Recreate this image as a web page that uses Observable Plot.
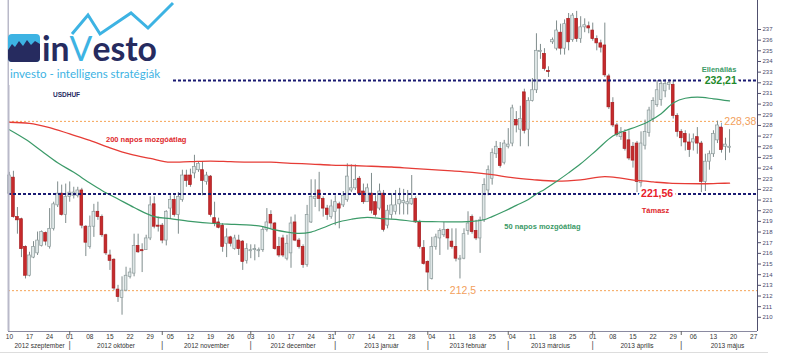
<!DOCTYPE html>
<html><head><meta charset="utf-8">
<script src="https://cdn.jsdelivr.net/npm/d3@7"></script>
<script src="https://cdn.jsdelivr.net/npm/@observablehq/plot@0.6"></script>
<style>body{margin:0;background:#fff}</style>
</head><body><div id="chart"></div>
<script>
// Daily USDHUF candles, one per trading day starting Mon 2012-09-10
const openP = [221.6,223.1,219.4,219.2,216.6,213.9,215.6,216.0,216.7,217.9,216.6,218.3,220.5,221.6,219.6,221.3,221.4,221.4,221.9,218.5,
216.6,218.5,219.9,219.4,217.7,215.8,215.4,212.6,211.8,212.5,213.8,214.1,216.7,216.3,216.3,217.4,220.6,218.6,218.6,217.2,
220.2,221.0,219.6,221.0,223.3,223.3,223.5,223.8,223.8,222.7,223.2,219.3,218.9,218.6,216.9,217.5,216.4,217.2,217.1,215.3,
216.2,216.3,216.2,216.3,218.2,219.6,218.8,216.6,217.4,215.5,216.0,218.9,217.2,216.6,214.9,218.9,221.1,221.9,221.1,220.2,
219.4,219.9,220.6,220.5,221.0,221.9,222.1,223.0,221.8,220.8,221.6,220.8,220.2,221.6,218.6,219.6,219.9,220.6,220.7,220.6,
220.6,221.1,218.9,216.5,215.2,213.6,216.6,217.4,217.7,218.2,217.1,216.6,215.4,215.5,218.1,219.4,218.1,217.4,219.1,221.9,
223.0,225.3,225.8,224.5,226.0,226.3,228.5,227.6,231.1,227.6,230.3,231.3,234.9,234.7,233.1,235.8,235.2,236.7,235.2,238.0,
236.0,238.0,236.1,237.2,237.3,236.9,236.1,235.7,235.5,232.6,230.1,228.0,226.9,227.3,226.6,226.0,226.3,222.6,226.1,227.3,
228.6,229.9,230.4,231.2,231.8,231.8,228.9,227.4,227.2,226.4,226.4,226.9,226.3,222.7,224.6,225.3,226.6,227.8,226.0,225.9];
const highP = [223.6,223.7,220.3,219.3,216.7,216.1,217.1,218.0,218.1,218.0,220.2,220.8,222.7,222.4,222.5,222.7,222.2,222.2,222.1,218.6,
219.5,220.6,220.8,219.6,217.8,216.3,215.5,213.0,213.8,214.7,214.6,217.8,217.8,216.9,217.7,221.3,221.3,219.4,218.8,220.0,
221.4,221.4,221.7,223.8,223.8,223.9,225.2,224.6,224.6,223.6,223.3,220.8,219.3,218.8,218.3,217.6,217.7,217.7,217.2,216.9,
216.8,216.8,216.5,218.5,220.2,220.0,218.9,217.5,217.7,217.7,219.4,219.6,217.4,216.8,220.5,222.9,222.9,223.6,221.3,220.5,
221.0,221.4,220.8,221.8,224.4,224.3,224.3,223.2,222.5,222.5,223.5,221.4,222.5,221.9,220.5,221.6,221.9,222.1,222.0,221.9,
223.3,221.3,219.1,217.2,215.3,217.5,217.8,218.3,218.9,218.3,218.3,218.3,215.8,218.3,219.9,219.6,219.1,219.4,223.0,224.2,
225.8,226.5,226.4,226.6,227.7,229.9,229.3,229.8,231.4,230.6,232.4,236.6,235.6,235.2,233.5,236.2,237.8,237.5,237.9,238.5,
238.5,238.7,238.2,238.0,237.7,237.6,236.4,236.0,237.6,232.8,230.6,228.2,227.8,227.6,227.5,226.4,226.5,227.4,228.5,229.7,
230.6,232.2,232.2,232.3,232.3,232.2,229.1,227.6,227.5,227.2,227.2,227.8,226.5,225.3,225.6,227.5,228.4,228.2,226.8,227.6];
const lowP = [221.5,219.3,217.8,215.6,213.6,213.8,215.5,215.8,216.6,216.7,216.4,218.1,220.3,219.5,218.8,220.8,221.1,221.2,218.3,215.7,
216.4,217.5,219.1,217.5,215.8,214.4,212.5,211.4,210.2,212.4,213.6,213.8,216.0,214.2,216.3,217.2,218.3,218.0,216.9,216.7,
219.2,219.4,217.8,220.8,222.2,222.2,223.0,223.6,221.4,222.4,219.4,218.5,218.3,216.1,215.6,216.6,216.3,215.8,214.4,215.0,
215.5,215.3,215.6,216.1,218.0,218.3,216.3,215.6,215.6,215.3,214.6,217.1,216.4,214.6,214.7,218.8,220.3,219.9,219.4,219.1,
219.2,218.6,218.3,220.3,220.8,221.7,221.9,221.4,220.6,220.8,219.7,219.4,220.0,218.0,218.3,219.2,219.6,219.6,219.6,219.6,
220.5,218.8,216.4,214.9,212.5,213.5,216.3,215.8,217.5,216.3,216.4,215.2,213.6,215.4,217.7,217.8,217.2,216.0,218.9,221.4,
222.4,224.9,224.0,224.3,225.8,226.0,227.3,226.0,227.2,226.0,230.2,231.0,234.2,233.1,232.5,235.6,235.0,234.6,234.6,235.0,
235.8,235.8,235.7,236.7,236.6,235.9,235.0,234.8,232.5,229.5,227.8,226.9,226.6,225.6,224.7,224.0,221.7,221.9,225.7,226.9,
228.3,229.7,229.8,230.6,231.3,228.6,226.9,226.0,225.6,225.0,225.6,225.3,221.7,221.8,223.8,225.0,226.3,225.4,224.7,225.4];
const closeP = [223.3,219.4,219.1,216.4,213.9,215.8,216.6,217.2,218.0,217.1,218.3,220.6,221.6,219.6,221.3,221.7,221.7,221.9,218.6,217.0,
218.5,219.9,219.4,217.7,216.0,215.3,212.7,211.9,212.5,213.9,214.2,216.7,216.1,216.2,217.4,220.5,218.5,218.5,217.2,219.9,
221.0,219.6,221.3,223.3,222.8,222.4,224.1,224.4,222.8,223.3,219.6,218.8,218.4,216.6,217.5,216.9,217.4,216.4,215.2,216.4,
216.3,216.4,216.3,218.2,218.9,218.8,216.4,215.8,215.8,216.9,218.8,217.2,216.6,214.9,219.6,221.3,221.3,221.1,220.2,219.6,
220.4,220.8,220.2,221.4,223.2,222.1,222.9,221.6,220.8,222.1,220.0,219.6,221.8,218.2,220.0,220.5,220.5,221.0,220.9,220.8,
221.1,218.9,216.6,215.0,214.2,216.6,217.5,218.1,218.2,217.4,216.6,215.5,215.5,217.8,218.8,218.0,217.4,219.1,222.4,223.8,
225.4,226.0,224.2,226.3,226.2,229.6,228.0,228.6,227.5,230.3,231.3,235.0,235.0,233.3,233.0,236.0,236.9,235.2,237.5,235.8,
238.3,236.1,237.2,237.4,237.1,236.1,235.7,235.3,232.7,229.7,228.0,227.1,227.4,225.8,224.9,224.7,222.7,226.3,227.4,229.4,
230.3,231.3,231.9,231.9,232.0,228.9,227.4,226.8,226.4,225.7,226.7,226.3,222.7,224.6,225.3,227.2,228.0,225.7,226.2,226.0];

// Moving averages (trading-day index, value)
const ma200Idx = [0,5,10,15,20,25,30,35,40,45,50,55,60,65,70,75,80,85,90,95,100,105,110,115,120,125,130,136,142,148,152,156,160,164,168,172,176,179];
const ma200Val = [228.3,228.2,227.8,227.2,226.6,225.9,225.3,224.9,224.55,224.6,224.65,224.6,224.56,224.55,224.45,224.38,224.28,224.24,224.17,224.1,223.97,223.85,223.74,223.6,223.38,223.1,222.92,222.78,222.9,223.2,223.05,222.84,222.7,222.58,222.54,222.53,222.56,222.59];
const ma50Idx = [0,4,8,12,16,20,23,27,31,36,40,45,51,56,60,63,66,69,72,75,78,81,85,89,93,97,101,105,110,115,118,120,123,126,129,131,133,136,139,142,146,150,153,156,159,162,165,168,171,175,179];
const ma50Val = [227.6,226.7,225.6,224.5,223.6,222.6,221.9,221.1,220.3,219.45,219.25,219.0,218.8,218.72,218.65,218.5,218.2,218.0,217.88,218.0,218.4,218.85,219.2,219.38,219.25,219.15,219.0,218.98,218.95,219.0,219.15,219.45,219.95,220.5,221.05,221.56,222.0,222.75,223.55,224.4,225.7,227.0,227.5,227.9,228.4,229.1,230.1,230.55,230.65,230.5,230.3];

// Horizontal levels
const resistance = [232.21];
const support = [221.56];
const minorLevels = [228.38, 212.5];

// Axis labels
const dayLabels = ["10","17","24","01","08","15","22","29","05","12","19","26","03","10","17","24","31","07","14","21","28","04","11","18","25","04","11","18","25","01","08","15","22","29","06","13","20","27"];
const monthNames = ["2012 szeptember","2012 október","2012 november","2012 december","2013 január","2013 február","2013 március","2013 április","2013 május"];
const monthStarts = [0,15,38,60,81,104,124,145,167,190];
const yTicks = d3.range(210, 238);

const annotations = [
  {text:"200 napos mozgóátlag", x:34, y:226.7, kind:"red"},
  {text:"50 napos mozgóátlag", x:132.5, y:218.5, kind:"green"},
  {text:"Ellenállás", x:176.4, y:233.25, kind:"green"},
  {text:"Támasz", x:160.6, y:220.0, kind:"red"}
];
const valueLabels = [
  {text:"232,21", x:176.8, y:232.21, kind:"res"},
  {text:"221,56", x:161, y:221.56, kind:"sup"},
  {text:"228,38", x:181.7, y:228.38, kind:"orange"},
  {text:"212,5", x:112.75, y:212.5, kind:"orange"}
];

const candles = openP.map((o, i) => ({i, open: o, high: highP[i], low: lowP[i], close: closeP[i]}));
const ma200 = ma200Idx.map((x, k) => ({x, y: ma200Val[k]}));
const ma50 = ma50Idx.map((x, k) => ({x, y: ma50Val[k]}));
const months = monthNames.map((name, k) => ({name, x: (monthStarts[k] + monthStarts[k + 1]) / 2}));
const seps = monthStarts.slice(1, -1);
const dayTicks = dayLabels.map((_, k) => k * 5);

const xDomain = [-0.22, 185.95];
const yDomain = [208.67, 239.72];
const colors = {red: "#e0282c", green: "#3a9a66", res: "#1f8a2c", sup: "#e8202a", orange: "#f2a05c"};
const FONT = "'Liberation Sans', Arial, sans-serif";

const chart = Plot.plot({
  width: 791, height: 360,
  marginLeft: 8, marginRight: 34, marginTop: 0, marginBottom: 29,
  x: {domain: xDomain},
  y: {domain: yDomain},
  style: {fontFamily: FONT, background: "#fff", overflow: "visible"},
  marks: [
    Plot.ruleY(minorLevels, {stroke: "#f5a356", strokeWidth: 1, strokeDasharray: "2,2"}),
    Plot.ruleX(candles, {x: "i", y1: "low", y2: "high", stroke: "#7f8c8c", strokeWidth: 1}),
    Plot.rect(candles, {
      x1: d => d.i - 0.34, x2: d => d.i + 0.34, y1: "open", y2: "close",
      fill: d => d.close < d.open ? "#c62a2c" : "#dfe7e7",
      stroke: d => d.close < d.open ? "#a81c1e" : "#8b9999",
      strokeWidth: 0.7
    }),
    Plot.line(ma200, {x: "x", y: "y", stroke: "#e63c36", strokeWidth: 1.3, curve: "monotone-x"}),
    Plot.line(ma50, {x: "x", y: "y", stroke: "#3b9a68", strokeWidth: 1.2, curve: "monotone-x"}),
    Plot.ruleY(resistance.concat(support), {stroke: "#1b1b72", strokeWidth: 2, strokeDasharray: "3,2"}),
    Plot.text(annotations, {x: "x", y: "y", text: "text", fill: d => colors[d.kind], fontSize: 7.5, fontWeight: "bold", stroke: "white", strokeWidth: 3, paintOrder: "stroke"}),
    Plot.text(valueLabels.filter(d => d.kind !== "orange"), {x: "x", y: "y", text: "text", fill: d => colors[d.kind], fontSize: 10.5, fontWeight: "bold", stroke: "white", strokeWidth: 6, paintOrder: "stroke"}),
    Plot.text(valueLabels.filter(d => d.kind === "orange"), {x: "x", y: "y", text: "text", fill: colors.orange, fontSize: 10.5, stroke: "white", strokeWidth: 6, paintOrder: "stroke"}),
    Plot.ruleX([xDomain[0]], {stroke: "#b9b9c9", strokeWidth: 2}),
    Plot.ruleX([xDomain[1]], {stroke: "#50506e", strokeWidth: 1}),
    Plot.ruleY([yDomain[0]], {stroke: "#8a8aa0", strokeWidth: 1}),
    Plot.axisY({anchor: "right", ticks: yTicks, tickSize: 3, tickPadding: 2, fontSize: 6, tickFormat: d => String(d), stroke: "#50506e", fill: "#4b4b6b", label: null}),
    Plot.axisX({ticks: dayTicks, tickFormat: d => dayLabels[Math.round(d / 5)], tickSize: 0, tickPadding: 3, fontSize: 6.5, fill: "#333", label: null}),
    Plot.axisX({ticks: seps, tickFormat: () => "", tickSize: 4, stroke: "#666", label: null}),
    Plot.text(months, {x: "x", text: "name", frameAnchor: "bottom", dy: 16, fontSize: 6.5, fill: "#333"}),
    Plot.text(seps, {x: d => d, text: () => "|", frameAnchor: "bottom", dy: 16, fontSize: 9, fill: "#555"})
  ]
});
document.getElementById("chart").appendChild(chart);

// Logo overlay
const svg = d3.select(chart);
const g = svg.append("g").attr("text-anchor", "start");
const LOGOFONT = "Lato, 'Open Sans', sans-serif";
g.append("rect").attr("x", 9).attr("y", 0).attr("width", 163).attr("height", 85).attr("fill", "#fff");
g.append("rect").attr("x", 8).attr("y", 34).attr("width", 32).attr("height", 28).attr("rx", 4).attr("fill", "#3db3e3");
g.append("path").attr("d", "M8,50 L12,44 L15,47 L19,41 L23,46 L27,40 L31,45 L35,41 L40,44 L40,58 Q40,62 36,62 L12,62 Q8,62 8,58 Z").attr("fill", "#262b5f");
g.append("polyline").attr("points", "72,34 88,15 100,34 131,13 148,28 173,3")
  .attr("fill", "none").attr("stroke", "#3db3e3").attr("stroke-width", 3).attr("stroke-linejoin", "miter");
const logo = g.append("text").attr("x", 42).attr("y", 61).attr("font-family", LOGOFONT).attr("font-size", 34)
  .attr("font-weight", 700).attr("fill", "#262b5f").attr("textLength", 115).attr("lengthAdjust", "spacingAndGlyphs");
logo.append("tspan").text("in");
logo.append("tspan").attr("fill", "#3db3e3").attr("font-weight", 400).text("V");
logo.append("tspan").text("esto");
g.append("text").attr("x", 10).attr("y", 78).attr("font-family", LOGOFONT).attr("font-size", 11)
  .attr("fill", "#3db3e3").attr("textLength", 150).attr("lengthAdjust", "spacingAndGlyphs").text("investo - intelligens stratégiák");
g.append("text").attr("x", 53).attr("y", 96.5).attr("font-family", FONT).attr("font-size", 6.5).attr("font-weight", "bold")
  .attr("fill", "#262b5f").text("USDHUF");
svg.append("line").attr("x1", 0).attr("x2", 768).attr("y1", 352.5).attr("y2", 352.5).attr("stroke", "#dddddd");
</script>
</body></html>
